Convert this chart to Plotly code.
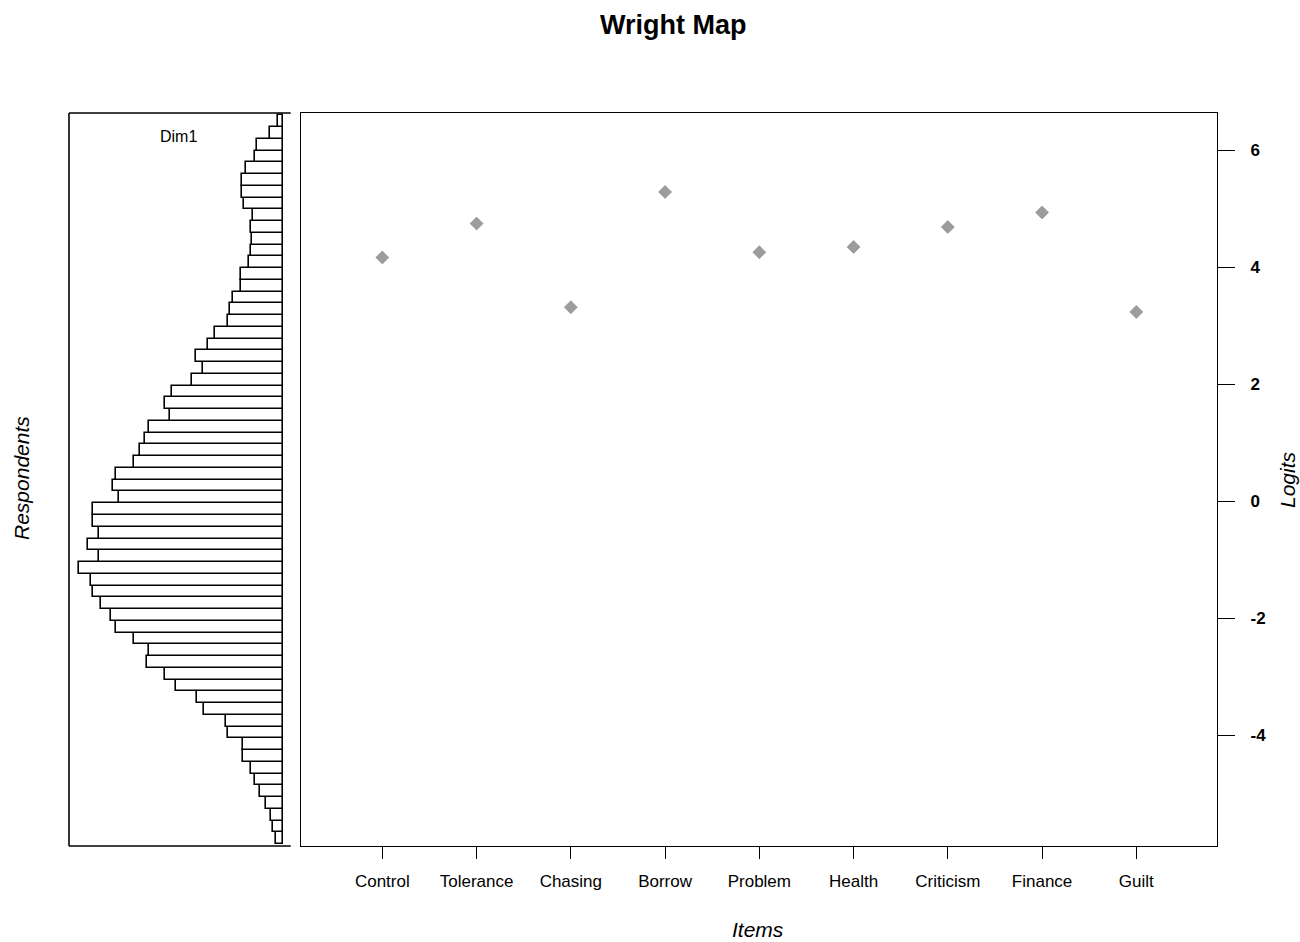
import plotly.graph_objects as go

# ---------------- data ----------------
items = ["Control", "Tolerance", "Chasing", "Borrow", "Problem",
         "Health", "Criticism", "Finance", "Guilt"]
item_logits = [4.17, 4.75, 3.32, 5.29, 4.26, 4.35, 4.69, 4.94, 3.24]

# respondent histogram (counts per bin, from lowest logit bin to highest)
hist_counts = [7, 10, 12, 17, 23, 28, 32, 40, 40, 55, 57, 79, 86, 107, 118,
               136, 134, 149, 167, 172, 182, 190, 192, 204, 184, 195, 184,
               190, 190, 164, 170, 167, 149, 143, 138, 134, 113, 118, 111,
               91, 80, 87, 75, 68, 55, 53, 50, 42, 42, 34, 32, 31, 32, 30,
               39, 41, 41, 37, 28, 26, 13, 5]
bin_lowest_edge = -5.86
bin_width = 0.201

y_ticks = [-4, -2, 0, 2, 4, 6]
y_tick_labels = ["-4", "-2", "0", "2", "4", "6"]
y_range = [-5.89, 6.64]

# ---------------- derived ----------------
bin_centers = [bin_lowest_edge + (i + 0.5) * bin_width for i in range(len(hist_counts))]

W, H = 1300, 942
def px(x):
    return x / W
def py(y):
    return 1 - y / H

left_dom = [px(69), px(290.7)]
right_dom = [px(301), px(1217)]
y_dom = [py(846), py(113)]

FONT = "Liberation Sans, Arial, sans-serif"

fig = go.Figure()

fig.add_trace(go.Bar(
    y=bin_centers, x=hist_counts, orientation="h", width=bin_width,
    marker=dict(color="white", line=dict(color="black", width=1.6)),
    xaxis="x", yaxis="y", showlegend=False, hoverinfo="x+y",
))

fig.add_trace(go.Scatter(
    x=items, y=item_logits, mode="markers",
    marker=dict(symbol="diamond", size=10, color="#9c9c9c",
                line=dict(color="#8a8a8a", width=0.6)),
    xaxis="x2", yaxis="y2", showlegend=False,
))

fig.update_layout(
    width=W, height=H,
    margin=dict(l=0, r=0, t=0, b=0),
    paper_bgcolor="white", plot_bgcolor="white",
    font=dict(family=FONT, color="black"),
    bargap=0,
    xaxis=dict(domain=left_dom, range=[213.7, -8], showgrid=False,
               zeroline=False, showticklabels=False, ticks="", showline=False),
    yaxis=dict(domain=y_dom, range=y_range, showgrid=False, zeroline=False,
               showticklabels=False, ticks="", showline=False),
    xaxis2=dict(domain=right_dom, anchor="y2", type="category",
                range=[-0.863, 8.856], showgrid=False, zeroline=False,
                showline=True, linecolor="black", linewidth=1.4, mirror=True,
                ticks="outside", ticklen=12, tickwidth=1.4, tickcolor="black",
                ticklabelstandoff=7,
                tickfont=dict(size=17, family=FONT, color="black")),
    yaxis2=dict(domain=y_dom, anchor="x2", side="right", range=y_range,
                tickvals=y_ticks, ticktext=y_tick_labels,
                showgrid=False, zeroline=False,
                showline=True, linecolor="black", linewidth=1.4, mirror=True,
                ticks="outside", ticklen=17, tickwidth=1.4, tickcolor="black",
                ticklabelstandoff=12,
                tickfont=dict(size=17, family=FONT, color="black",
                              weight="bold")),
)

# left panel box (left, top, bottom)
for (x0, y0, x1, y1) in [(69, 113, 69, 846), (69, 113, 290.7, 113), (69, 846, 290.7, 846)]:
    fig.add_shape(type="line", xref="paper", yref="paper",
                  x0=px(x0), y0=py(y0), x1=px(x1), y1=py(y1),
                  line=dict(color="black", width=1.6))

ann = [
    dict(text="<b>Wright Map</b>", x=px(673), y=py(25), font=dict(size=27)),
    dict(text="Dim1", x=px(178), y=py(137), font=dict(size=16)),
    dict(text="<i>Items</i>", x=px(758), y=py(929), font=dict(size=21)),
    dict(text="<i>Respondents</i>", x=px(21), y=py(478), font=dict(size=21), textangle=-90),
    dict(text="<i>Logits</i>", x=px(1287), y=py(480), font=dict(size=21), textangle=-90),
]
for a in ann:
    a.update(xref="paper", yref="paper", showarrow=False,
             xanchor="center", yanchor="middle")
    a["font"].update(family=FONT, color="black")
    fig.add_annotation(**a)

fig.write_html("out.html")
